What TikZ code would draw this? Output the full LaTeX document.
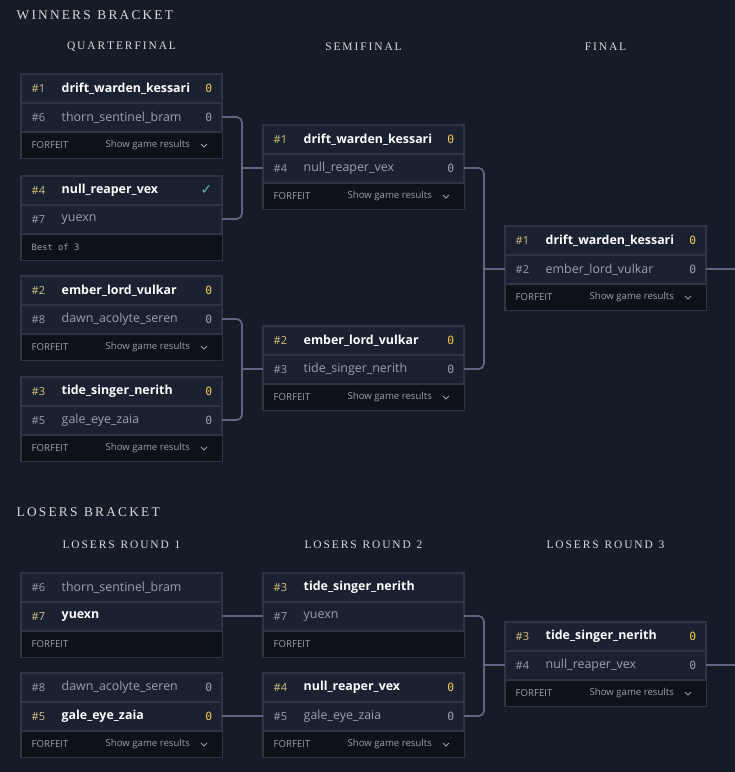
\documentclass[tikz,border=0pt]{standalone}
\usepackage{fontspec}
\setmainfont{Open Sans}
\newfontfamily\headfont{Liberation Serif}
\newfontfamily\monofont{DejaVu Sans Mono}
\newfontfamily\symfont{DejaVu Sans}
\usetikzlibrary{positioning}

\definecolor{pagebg}{HTML}{161C27}
\definecolor{cardbg}{HTML}{1A2130}
\definecolor{cardline}{HTML}{2D3547}
\definecolor{footbg}{HTML}{0D1118}
\definecolor{seedgold}{HTML}{D9C27C}
\definecolor{scoregold}{HTML}{F2CB4E}
\definecolor{dimtext}{HTML}{9AA1AD}
\definecolor{wirecol}{HTML}{5D6780}
\definecolor{tick}{HTML}{5DB9A4}

\tikzset{
  card/.style={draw=cardline,line width=0.8pt,fill=cardbg},
  foot/.style={fill=footbg},
  wire/.style={draw=wirecol,line width=1.3pt,rounded corners=4},
  seed/.style={anchor=west,font=\fontsize{8.3}{9}\selectfont,text=dimtext},
  seedw/.style={seed,text=seedgold},
  pname/.style={anchor=west,font=\fontsize{9.3}{11}\selectfont,text=dimtext},
  pnamew/.style={pname,font=\fontsize{9.3}{11}\selectfont\bfseries,text=white},
  score/.style={anchor=east,font=\monofont\fontsize{8.5}{10}\selectfont,text=dimtext},
  scorew/.style={score,text=scoregold},
  small/.style={anchor=west,font=\fontsize{7.2}{8}\selectfont,text=dimtext},
  bracket/.style={anchor=west,font=\headfont\fontsize{10}{12}\selectfont,text=white!85!black},
  round/.style={font=\headfont\fontsize{8.6}{10}\selectfont,text=white!85!black}
}

% card frame: id, x, y
\newcommand\card[3]{%
  \path[card] (#2,-#3) rectangle ({#2+201},{-#3-84});
  \path[foot] ({#2+0.5},{-#3-58}) rectangle ({#2+200.5},{-#3-83.5});
  \draw[cardline,line width=0.8pt] (#2,{-#3-29}) -- ({#2+201},{-#3-29})
    (#2,{-#3-58}) -- ({#2+201},{-#3-58});
  \coordinate (#1-in) at (#2,{-#3-43});
  \coordinate (#1-out) at ({#2+201},{-#3-43});
  \coordinate (#1) at (#2,-#3);}
% player row: card x, card y, row (0/1), seed style, seed, name style, name, score style, score
\newcommand\player[9]{%
  \node[#4] at ({#1+6},{-#2-14.5-29*#3}) {#5};
  \node[#6] at ({#1+36},{-#2-14.5-29*#3}) {#7};
  \node[#8] at ({#1+196},{-#2-14.5-29*#3}) {#9};}
% footer: x, y, results?
\newcommand\forfeit[3]{%
  \node[small] at ({#1+6},{-#2-71}) {FORFEIT};
  \ifnum#3=1
    \node[small] at ({#1+80},{-#2-71}) {Show game results};
    \draw[dimtext,line width=0.6pt] ({#1+180},{-#2-70}) -- ({#1+183},{-#2-73}) -- ({#1+186},{-#2-70});
  \fi}

\begin{document}
\begin{tikzpicture}[x=0.75pt,y=0.75pt]
  \useasboundingbox[fill=pagebg] (0,0) rectangle (735,-772);

  % winners bracket
  \node[bracket] (wb) at (12,-15) {W\,I\,N\,N\,E\,R\,S\ \ B\,R\,A\,C\,K\,E\,T};
  \node[round] (hq) at (121.5,-47) {Q\,U\,A\,R\,T\,E\,R\,F\,I\,N\,A\,L};
  \node[round] (hs) at (363.5,-47) {S\,E\,M\,I\,F\,I\,N\,A\,L};
  \node[round] (hf) at (605.5,-47) {F\,I\,N\,A\,L};

  \card{qa}{21}{74}
  \player{21}{74}{0}{seedw}{\#1}{pnamew}{drift\_warden\_kessari}{scorew}{0}
  \player{21}{74}{1}{seed}{\#6}{pname}{thorn\_sentinel\_bram}{score}{0}
  \forfeit{21}{74}{1}

  \card{qb}{21}{176}
  \player{21}{176}{0}{seedw}{\#4}{pnamew}{null\_reaper\_vex}{score}{\textcolor{tick}{\symfont\fontsize{10.5}{11}\selectfont ✓}}
  \player{21}{176}{1}{seed}{\#7}{pname}{yuexn}{score}{}
  \node[small,font=\monofont\fontsize{6.6}{8}\selectfont] at (27,-247) {Best of 3};

  \card{qc}{21}{276}
  \player{21}{276}{0}{seedw}{\#2}{pnamew}{ember\_lord\_vulkar}{scorew}{0}
  \player{21}{276}{1}{seed}{\#8}{pname}{dawn\_acolyte\_seren}{score}{0}
  \forfeit{21}{276}{1}

  \card{qd}{21}{377}
  \player{21}{377}{0}{seedw}{\#3}{pnamew}{tide\_singer\_nerith}{scorew}{0}
  \player{21}{377}{1}{seed}{\#5}{pname}{gale\_eye\_zaia}{score}{0}
  \forfeit{21}{377}{1}

  \card{sa}{263}{125}
  \player{263}{125}{0}{seedw}{\#1}{pnamew}{drift\_warden\_kessari}{scorew}{0}
  \player{263}{125}{1}{seed}{\#4}{pname}{null\_reaper\_vex}{score}{0}
  \forfeit{263}{125}{1}

  \card{sb}{263}{326}
  \player{263}{326}{0}{seedw}{\#2}{pnamew}{ember\_lord\_vulkar}{scorew}{0}
  \player{263}{326}{1}{seed}{\#3}{pname}{tide\_singer\_nerith}{score}{0}
  \forfeit{263}{326}{1}

  \card{fa}{505}{226}
  \player{505}{226}{0}{seedw}{\#1}{pnamew}{drift\_warden\_kessari}{scorew}{0}
  \player{505}{226}{1}{seed}{\#2}{pname}{ember\_lord\_vulkar}{score}{0}
  \forfeit{505}{226}{1}

  \draw[wire] (qa-out) -- ++(20,0) |- (qb-out);
  \draw[wire] (sa-in) -- ++(-21,0);
  \draw[wire] (qc-out) -- ++(20,0) |- (qd-out);
  \draw[wire] (sb-in) -- ++(-21,0);
  \draw[wire] (sa-out) -- ++(20,0) |- (sb-out);
  \draw[wire] (fa-in) -- ++(-21,0);
  \draw[wire] (fa-out) -- (735,-269);

  % losers bracket
  \node[bracket] (lb) at (12,-512) {L\,O\,S\,E\,R\,S\ \ B\,R\,A\,C\,K\,E\,T};
  \node[round] (h1) at (121.5,-545) {L\,O\,S\,E\,R\,S\ \ R\,O\,U\,N\,D\ \ 1};
  \node[round] (h2) at (363.5,-545) {L\,O\,S\,E\,R\,S\ \ R\,O\,U\,N\,D\ \ 2};
  \node[round] (h3) at (605.5,-545) {L\,O\,S\,E\,R\,S\ \ R\,O\,U\,N\,D\ \ 3};

  \card{la}{21}{573}
  \player{21}{573}{0}{seed}{\#6}{pname}{thorn\_sentinel\_bram}{score}{}
  \player{21}{573}{1}{seedw}{\#7}{pnamew}{yuexn}{score}{}
  \forfeit{21}{573}{0}

  \card{lc}{21}{673}
  \player{21}{673}{0}{seed}{\#8}{pname}{dawn\_acolyte\_seren}{score}{0}
  \player{21}{673}{1}{seedw}{\#5}{pnamew}{gale\_eye\_zaia}{scorew}{0}
  \forfeit{21}{673}{1}

  \card{ma}{263}{573}
  \player{263}{573}{0}{seedw}{\#3}{pnamew}{tide\_singer\_nerith}{score}{}
  \player{263}{573}{1}{seed}{\#7}{pname}{yuexn}{score}{}
  \forfeit{263}{573}{0}

  \card{mb}{263}{673}
  \player{263}{673}{0}{seedw}{\#4}{pnamew}{null\_reaper\_vex}{scorew}{0}
  \player{263}{673}{1}{seed}{\#5}{pname}{gale\_eye\_zaia}{score}{0}
  \forfeit{263}{673}{1}

  \card{ra}{505}{622}
  \player{505}{622}{0}{seedw}{\#3}{pnamew}{tide\_singer\_nerith}{scorew}{0}
  \player{505}{622}{1}{seed}{\#4}{pname}{null\_reaper\_vex}{score}{0}
  \forfeit{505}{622}{1}

  \draw[wire] (la-out) -- (ma-in);
  \draw[wire] (lc-out) -- (mb-in);
  \draw[wire] (ma-out) -- ++(20,0) |- (mb-out);
  \draw[wire] (ra-in) -- ++(-21,0);
  \draw[wire] (ra-out) -- (735,-665);
\end{tikzpicture}
\end{document}
